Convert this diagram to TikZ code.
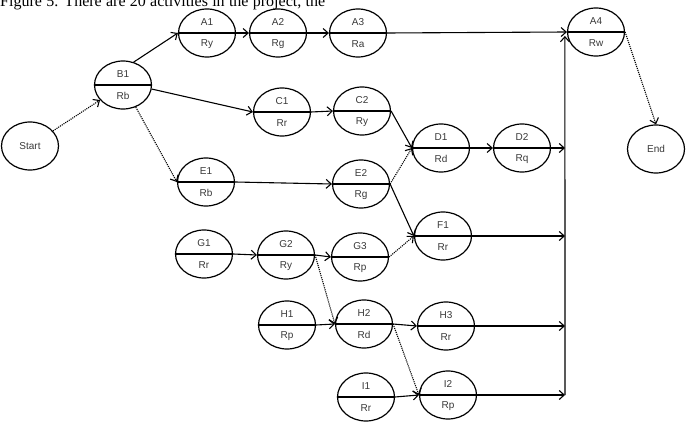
\documentclass[tikz,border=0pt]{standalone}
\usepackage{fontspec}
\setmainfont{Liberation Serif}
\newfontfamily\labfont{Liberation Sans}
\usetikzlibrary{shapes.geometric,arrows.meta}
\newcommand\actnode[4]{%
  \node[act] (#1) at (#2) {};
  \draw[line width=1.2pt] (#1.west) -- (#1.east);
  \node[lbl] (#1t) at ([yshift=11pt]#1.center) {#3};
  \node[lbl] (#1b) at ([yshift=-11pt]#1.center) {#4};}
\begin{document}
\begin{tikzpicture}[x=1pt,y=-1pt,
  act/.style={ellipse,draw,line width=1.2pt,minimum width=57pt,minimum height=48pt,inner sep=0pt},
  lbl/.style={font=\labfont\fontsize{10}{11}\selectfont,text=black!78,inner sep=0pt},
  flow/.style={line width=1.1pt,-{Straight Barb[length=5pt,width=9pt]}},
  dep/.style={line width=1.1pt,densely dotted,-{Straight Barb[length=5pt,width=9pt]}}]
\useasboundingbox (0,0) rectangle (687,427);
\clip (0,0) rectangle (687,427);
\node[anchor=base west,inner sep=0pt,font=\fontsize{16}{18}\selectfont] (cap) at (0,6.5) {\makebox[325pt][s]{Figure 5. There are 20 activities in the project, the}};
% terminal nodes
\node[act,font=\labfont\fontsize{10}{11}\selectfont,text=black!78] (Start) at (30,146) {Start};
\node[act,font=\labfont\fontsize{10}{11}\selectfont,text=black!78] (End) at (656,149) {End};
% activities
\actnode{B1}{123,85}{B1}{Rb}
\actnode{A1}{207,33}{A1}{Ry}
\actnode{A2}{278,33}{A2}{Rg}
\actnode{A3}{358,33}{A3}{Ra}
\actnode{A4}{596,32}{A4}{Rw}
\actnode{C1}{282,112}{C1}{Rr}
\actnode{C2}{362,111}{C2}{Ry}
\actnode{E1}{206,182}{E1}{Rb}
\actnode{E2}{361,184}{E2}{Rg}
\actnode{D1}{441,148}{D1}{Rd}
\actnode{D2}{522,148}{D2}{Rq}
\actnode{F1}{443,236}{F1}{Rr}
\actnode{G1}{204,254}{G1}{Rr}
\actnode{G2}{286,255}{G2}{Ry}
\actnode{G3}{360,257}{G3}{Rp}
\actnode{H1}{287,325}{H1}{Rp}
\actnode{H2}{364,324}{H2}{Rd}
\actnode{H3}{446,326}{H3}{Rr}
\actnode{I1}{366,397}{I1}{Rr}
\actnode{I2}{448,395}{I2}{Rp}
% bus coordinates
\coordinate (busI) at (565,395);
\coordinate (busH) at (565,326);
\coordinate (busF) at (565,236);
\coordinate (busD) at (565,148);
\coordinate (busTop) at ([xshift=-2pt,yshift=-4pt]A4.west);
% connectors
\draw[dep] (Start) -- (B1);
\draw[flow] (B1.65) -- (A1.west);
\draw[flow] (A1.east) -- (A2.west);
\draw[flow] (A2.east) -- (A3.west);
\draw[flow] (A3.east) -- (A4.west);
\draw[flow] (B1.-8) -- (C1.west);
\draw[flow] (C1.east) -- (C2.west);
\draw[flow] (C2.east) -- (D1.west);
\draw[dep] (B1.-60) -- (E1.west);
\draw[flow] (E1.east) -- (E2.west);
\draw[dep] (E2.east) -- (D1.west);
\draw[flow] (E2.east) -- (F1.west);
\draw[flow] (D1.east) -- (D2.west);
\draw[flow] (D2.east) -- (busD);
\draw[flow] (G1.east) -- (G2.west);
\draw[flow] (G2.east) -- (G3.west);
\draw[dep] (G3.east) -- (F1.west);
\draw[dep] (G2.east) -- (H2.west);
\draw[flow] (H1.east) -- (H2.west);
\draw[flow] (H2.east) -- (H3.west);
\draw[dep] (H2.east) -- (I2.west);
\draw[flow] (I1.east) -- (I2.west);
\draw[flow] (F1.east) -- (busF);
\draw[flow] (H3.east) -- (busH);
\draw[flow] (I2.east) -- (busI);
\draw[flow] (busI) -- (busTop);
\draw[dep] (A4.east) -- (End.north);
\end{tikzpicture}
\end{document}
